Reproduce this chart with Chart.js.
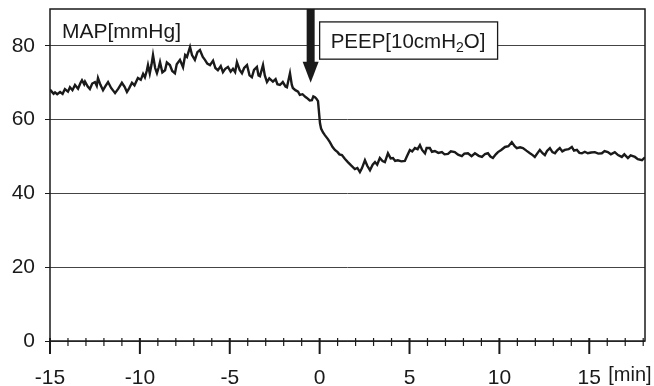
<!DOCTYPE html>
<html>
<head>
<meta charset="utf-8">
<script src="https://cdn.jsdelivr.net/npm/chart.js@4.4.1/dist/chart.umd.min.js"></script>
<style>
  html, body { margin: 0; padding: 0; background: #fff; }
  #wrap { width: 654px; height: 386px; }
</style>
</head>
<body>
<div id="wrap"><canvas id="mapChart"></canvas></div>
<script>
// time in minutes relative to PEEP start
const minutes = [
  -15.0, -14.94, -14.8, -14.72, -14.6, -14.44, -14.3, -14.17, -14.0, -13.89,
  -13.75, -13.61, -13.44, -13.3, -13.22, -13.1, -13.05, -12.9, -12.78, -12.65,
  -12.5, -12.4, -12.33, -12.2, -12.05, -11.9, -11.77, -11.6, -11.38, -11.2,
  -11.0, -10.85, -10.72, -10.6, -10.44, -10.3, -10.11, -9.95, -9.82, -9.72,
  -9.62, -9.55, -9.45, -9.35, -9.27, -9.15, -9.05, -8.95, -8.88, -8.75,
  -8.6, -8.5, -8.33, -8.2, -8.05, -7.95, -7.77, -7.6, -7.48, -7.38,
  -7.21, -7.1, -6.94, -6.8, -6.66, -6.5, -6.38, -6.25, -6.1, -5.93,
  -5.8, -5.66, -5.5, -5.38, -5.25, -5.1, -4.95, -4.82, -4.7, -4.6,
  -4.45, -4.32, -4.2, -4.04, -3.9, -3.77, -3.65, -3.49, -3.4, -3.32,
  -3.15, -3.05, -2.93, -2.8, -2.6, -2.45, -2.35, -2.21, -2.05, -1.9,
  -1.82, -1.65, -1.55, -1.49, -1.35, -1.2, -1.1, -0.95, -0.8, -0.71,
  -0.55, -0.43, -0.35, -0.26, -0.18, -0.09, 0.02, 0.08, 0.18, 0.29,
  0.45, 0.57, 0.72, 0.85, 1.0, 1.1, 1.24, 1.4, 1.57, 1.75,
  1.96, 2.1, 2.24, 2.35, 2.52, 2.65, 2.8, 2.95, 3.08, 3.2,
  3.35, 3.5, 3.63, 3.8, 3.95, 4.08, 4.2, 4.35, 4.55, 4.74,
  4.85, 5.02, 5.15, 5.3, 5.45, 5.58, 5.7, 5.86, 5.95, 6.13,
  6.25, 6.41, 6.6, 6.8, 6.95, 7.14, 7.3, 7.52, 7.7, 7.91,
  8.05, 8.25, 8.45, 8.64, 8.85, 9.03, 9.2, 9.36, 9.5, 9.64,
  9.8, 9.92, 10.1, 10.31, 10.5, 10.69, 10.85, 10.97, 11.15, 11.31,
  11.5, 11.7, 11.85, 11.97, 12.1, 12.25, 12.4, 12.53, 12.65, 12.81,
  12.95, 13.09, 13.2, 13.36, 13.5, 13.64, 13.85, 14.03, 14.15, 14.31,
  14.45, 14.59, 14.75, 14.92, 15.1, 15.31, 15.5, 15.7, 15.85, 16.03,
  16.2, 16.42, 16.6, 16.81, 16.95, 17.15, 17.3, 17.54, 17.7, 17.93,
  18.1
]

// mean arterial pressure, mmHg
const mapValues = [
  68.2, 67.8, 67.0, 67.4, 66.9, 67.5, 67.0, 68.3, 67.6, 68.8,
  68.0, 69.4, 68.4, 70.0, 70.7, 69.6, 70.3, 69.0, 68.3, 69.8,
  70.2, 69.2, 71.3, 69.5, 68.0, 69.2, 70.2, 68.6, 67.2, 68.4,
  70.0, 68.9, 67.5, 68.5, 70.0, 69.3, 71.3, 70.8, 72.4, 71.5,
  73.2, 74.8, 72.5, 75.0, 77.5, 74.0, 72.6, 74.2, 75.6, 72.8,
  73.4, 75.5, 74.8, 73.2, 72.6, 75.0, 76.2, 74.2, 77.5, 77.0,
  79.7, 77.5, 76.2, 78.3, 78.9, 77.0, 76.2, 75.2, 74.8, 76.0,
  74.0, 73.4, 74.5, 72.9, 73.8, 74.3, 73.0, 73.8, 72.9, 75.6,
  73.5, 72.6, 74.0, 74.8, 72.0, 71.5, 73.5, 74.3, 72.0, 71.8,
  74.8, 72.0, 70.2, 71.2, 70.3, 71.0, 69.6, 69.4, 70.2, 69.0,
  68.8, 72.6, 69.5, 68.6, 68.0, 67.6, 66.7, 66.9, 66.2, 65.9,
  65.2, 65.3, 66.3, 66.1, 65.7, 65.0, 59.0, 57.6, 56.6, 55.8,
  54.8, 53.9, 52.6, 51.8, 51.2, 50.6, 50.4, 49.4, 48.5, 47.6,
  46.6, 46.9, 45.8, 46.8, 49.0, 47.5, 46.3, 47.8, 48.5, 47.8,
  49.6, 48.8, 48.5, 50.9, 49.5, 49.6, 48.8, 49.0, 48.7, 48.8,
  50.0, 51.8, 51.4, 52.3, 52.0, 53.1, 51.8, 50.9, 52.3, 52.3,
  51.3, 51.5, 51.0, 51.2, 50.6, 50.7, 51.4, 51.2, 50.5, 50.1,
  50.8, 50.9, 50.1, 50.9, 50.2, 49.9, 50.7, 50.9, 50.0, 49.6,
  50.6, 51.2, 51.8, 52.6, 52.8, 53.9, 52.8, 52.3, 52.5, 52.3,
  51.6, 50.9, 50.4, 49.9, 50.8, 51.8, 50.9, 50.4, 51.5, 52.3,
  51.2, 50.9, 51.6, 52.3, 51.4, 51.8, 52.0, 52.6, 51.6, 51.8,
  51.0, 50.9, 51.3, 50.9, 51.1, 51.2, 50.8, 50.9, 51.5, 51.2,
  50.6, 51.2, 50.4, 49.9, 50.6, 49.6, 50.3, 49.9, 49.3, 49.0,
  49.8
]

const xTicks = [-15, -10, -5, 0, 5, 10, 15]
const yTicks = [0, 20, 40, 60, 80]

const FONT = "'Liberation Sans', Arial, sans-serif"
const INK = '#1a1a1a'

// frame, minute ticks, arrow and labels drawn on top of the chart
const decorations = {
  id: 'decorations',
  afterDraw(chart) {
    const ctx = chart.ctx
    const area = chart.chartArea
    const x = chart.scales.x
    const y = chart.scales.y

    ctx.save()
    ctx.strokeStyle = INK
    ctx.fillStyle = INK

    // plot frame
    ctx.lineWidth = 1.5
    ctx.strokeRect(area.left, area.top, area.right - area.left, area.bottom - area.top)

    // minute ticks on the time axis
    for (let m = -15; m <= 18; m++) {
      const px = x.getPixelForValue(m)
      const major = m % 5 === 0
      ctx.lineWidth = major ? 2 : 1.2
      ctx.beginPath()
      ctx.moveTo(px, area.bottom - 3)
      ctx.lineTo(px, area.bottom + (major ? 13 : 5))
      ctx.stroke()
    }

    // unit of the time axis
    ctx.font = '20px ' + FONT
    ctx.textBaseline = 'alphabetic'
    ctx.textAlign = 'left'
    ctx.fillText('[min]', x.getPixelForValue(15) + 19, 381)

    // y axis title inside the plot
    ctx.font = '21px ' + FONT
    ctx.fillText('MAP[mmHg]', area.left + 12, 38)

    // arrow marking the start of PEEP
    const ax = x.getPixelForValue(-0.5)
    const tip = y.getPixelForValue(70)
    ctx.beginPath()
    ctx.rect(ax - 4, area.top, 8, tip - area.top - 18)
    ctx.fill()
    ctx.beginPath()
    ctx.moveTo(ax - 8, tip - 21)
    ctx.lineTo(ax + 8, tip - 21)
    ctx.lineTo(ax, tip)
    ctx.closePath()
    ctx.fill()

    // PEEP label box
    const bl = x.getPixelForValue(0)
    const br = x.getPixelForValue(9.9)
    const bt = y.getPixelForValue(86.5)
    const bb = y.getPixelForValue(76.4)
    ctx.fillStyle = '#fff'
    ctx.fillRect(bl, bt, br - bl, bb - bt)
    ctx.lineWidth = 1.3
    ctx.strokeRect(bl, bt, br - bl, bb - bt)

    ctx.fillStyle = INK
    let tx = bl + 11
    const base = 48
    ctx.font = '20.5px ' + FONT
    ctx.fillText('PEEP[10cmH', tx, base)
    tx += ctx.measureText('PEEP[10cmH').width
    ctx.font = '14px ' + FONT
    ctx.fillText('2', tx, base + 4)
    tx += ctx.measureText('2').width
    ctx.font = '20.5px ' + FONT
    ctx.fillText('O]', tx, base)

    ctx.restore()
  }
}

const points = minutes.map((m, i) => ({ x: m, y: mapValues[i] }))

new Chart(document.getElementById('mapChart'), {
  type: 'line',
  data: {
    datasets: [{
      data: points,
      borderColor: INK,
      borderWidth: 2.4,
      pointRadius: 0,
      tension: 0,
      fill: false
    }]
  },
  options: {
    responsive: true,
    maintainAspectRatio: false,
    animation: false,
    events: [],
    layout: {
      padding: { top: 9, right: 9, left: 0, bottom: 0 }
    },
    plugins: {
      legend: { display: false },
      tooltip: { enabled: false }
    },
    scales: {
      x: {
        type: 'linear',
        min: -15,
        max: 18.1,
        afterBuildTicks: scale => {
          scale.ticks = xTicks.map(v => ({ value: v }))
        },
        afterFit: scale => {
          scale.height = 45
          scale.paddingLeft = 0
          scale.paddingRight = 0
        },
        grid: { display: false },
        border: { display: false },
        ticks: {
          color: INK,
          font: { family: FONT, size: 21 },
          padding: 17,
          maxRotation: 0,
          autoSkip: false
        }
      },
      y: {
        min: 0,
        max: 90,
        afterBuildTicks: scale => {
          scale.ticks = yTicks.map(v => ({ value: v }))
        },
        afterFit: scale => {
          scale.width = 50
          scale.paddingTop = 0
          scale.paddingBottom = 0
        },
        grid: {
          color: '#444',
          lineWidth: 1,
          tickLength: 5,
          tickColor: INK
        },
        border: { display: false },
        ticks: {
          color: INK,
          font: { family: FONT, size: 21 },
          padding: 10
        }
      }
    }
  },
  plugins: [decorations]
})
</script>
</body>
</html>
